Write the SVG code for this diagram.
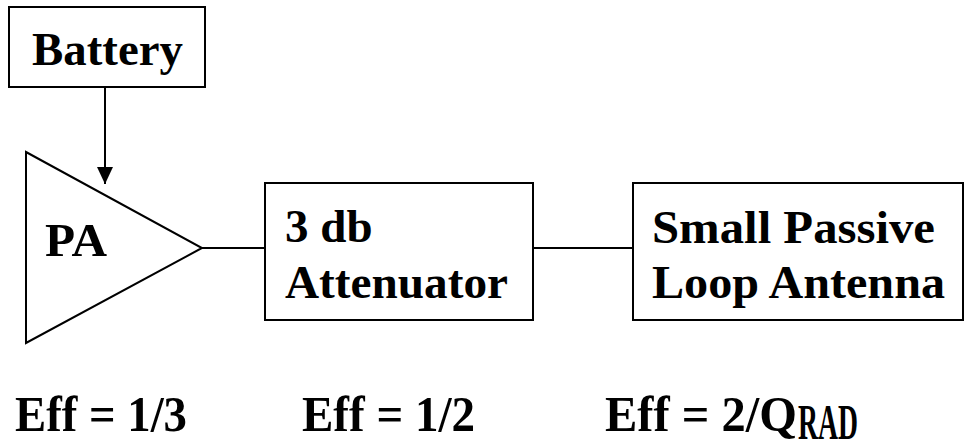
<svg xmlns="http://www.w3.org/2000/svg" width="973" height="446" viewBox="0 0 973 446">
  <defs>
    <marker id="arrow" viewBox="0 0 17 16" refX="17" refY="8" markerWidth="17" markerHeight="16" markerUnits="userSpaceOnUse" orient="auto">
      <path d="M0,0 L17,8 L0,16 Z" fill="#000"/>
    </marker>
    <style>
      .box { fill: #fff; stroke: #000; stroke-width: 2; }
      .wire { fill: none; stroke: #000; stroke-width: 2; }
      .lbl { font-family: "Liberation Serif", "Times New Roman", serif; font-weight: bold; font-size: 47px; fill: #000; }
      .eff { font-family: "Liberation Serif", "Times New Roman", serif; font-weight: bold; font-size: 50px; fill: #000; }
    </style>
  </defs>

  <!-- connectors -->
  <g id="connectors">
    <line class="wire" x1="105" y1="87" x2="105" y2="184" stroke-width="3" marker-end="url(#arrow)"/>
    <line class="wire" x1="202" y1="248" x2="265" y2="248"/>
    <line class="wire" x1="533" y1="248" x2="633" y2="248"/>
  </g>

  <!-- battery supply -->
  <g id="battery">
    <rect class="box" x="9" y="7" width="196" height="80"/>
    <text class="lbl" x="32" y="65" textLength="151" lengthAdjust="spacingAndGlyphs">Battery</text>
  </g>

  <!-- power amplifier -->
  <g id="pa">
    <polygon class="box" points="26,152 202,248 26,343"/>
    <text class="lbl" x="45" y="256" textLength="62" lengthAdjust="spacingAndGlyphs">PA</text>
  </g>

  <!-- attenuator -->
  <g id="attenuator">
    <rect class="box" x="265" y="183" width="268" height="137"/>
    <text class="lbl" x="285" y="242">3 db</text>
    <text class="lbl" x="285" y="298" textLength="223" lengthAdjust="spacingAndGlyphs">Attenuator</text>
  </g>

  <!-- antenna -->
  <g id="antenna">
    <rect class="box" x="633" y="183" width="330" height="137"/>
    <text class="lbl" x="652" y="243" textLength="283" lengthAdjust="spacingAndGlyphs">Small Passive</text>
    <text class="lbl" x="652" y="298" textLength="293" lengthAdjust="spacingAndGlyphs">Loop Antenna</text>
  </g>

  <!-- efficiency figures -->
  <g id="efficiencies">
    <text class="eff" x="15" y="431" textLength="172" lengthAdjust="spacingAndGlyphs">Eff = 1/3</text>
    <text class="eff" x="302" y="431" textLength="173" lengthAdjust="spacingAndGlyphs">Eff = 1/2</text>
    <text class="eff" x="605" y="431" textLength="192" lengthAdjust="spacingAndGlyphs">Eff = 2/Q</text>
    <text class="eff" x="798" y="439" font-size="29" textLength="60" lengthAdjust="spacingAndGlyphs">RAD</text>
  </g>
</svg>
